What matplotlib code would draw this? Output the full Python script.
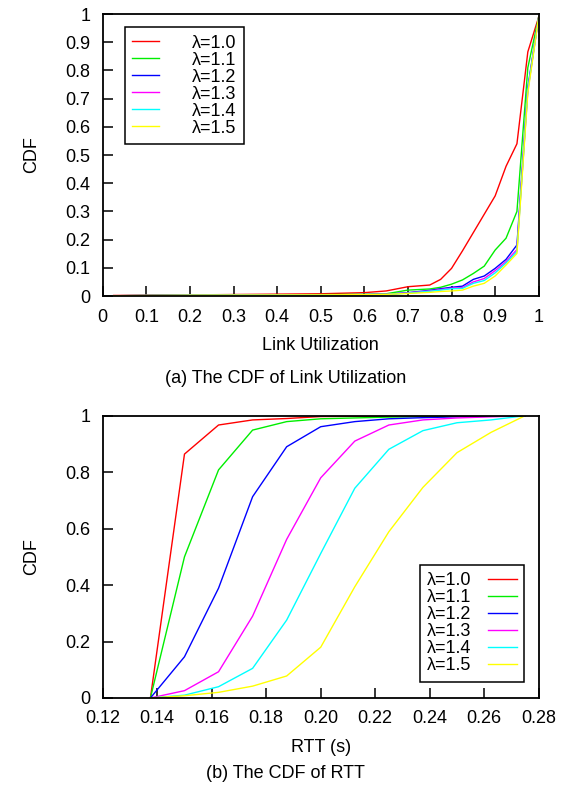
import matplotlib.pyplot as plt
from matplotlib.ticker import FixedLocator

plt.rcParams['font.family'] = ['Liberation Sans', 'DejaVu Sans']

labels = ['λ=1.0', 'λ=1.1', 'λ=1.2', 'λ=1.3', 'λ=1.4', 'λ=1.5']
colors = ['#ff0000', '#00ee00', '#0000ff', '#ff00ff', '#00ffff', '#ffff00']

# (a) link utilization CDF
util_x = [0.025, 0.2, 0.5, 0.6, 0.65, 0.7, 0.75, 0.775, 0.8, 0.825, 0.85,
          0.875, 0.9, 0.925, 0.95, 0.975, 1.0]
util_10 = [0.002, 0.004, 0.008, 0.012, 0.018, 0.033, 0.039, 0.059, 0.098, 0.16,
           0.225, 0.29, 0.355, 0.46, 0.54, 0.866, 0.99]
util_11 = [0.001, 0.003, 0.005, 0.006, 0.008, 0.021, 0.025, 0.031, 0.042, 0.057,
           0.08, 0.106, 0.163, 0.205, 0.30, 0.81, 0.99]
util_12 = [0.001, 0.003, 0.004, 0.005, 0.006, 0.012, 0.02, 0.026, 0.031, 0.035,
           0.059, 0.071, 0.098, 0.13, 0.181, 0.74, 0.99]
util_13 = [0.001, 0.003, 0.004, 0.005, 0.006, 0.011, 0.018, 0.023, 0.028, 0.03,
           0.05, 0.062, 0.09, 0.122, 0.165, 0.73, 0.99]
util_14 = [0.001, 0.003, 0.004, 0.005, 0.006, 0.01, 0.017, 0.021, 0.026, 0.027,
           0.045, 0.055, 0.082, 0.117, 0.158, 0.73, 0.99]
util_15 = [0.001, 0.003, 0.004, 0.005, 0.006, 0.009, 0.013, 0.016, 0.018, 0.021,
           0.035, 0.045, 0.071, 0.11, 0.151, 0.72, 0.99]

# (b) RTT CDF
rtt_x = [0.1375, 0.15, 0.1625, 0.175, 0.1875, 0.2, 0.2125, 0.225, 0.2375,
         0.25, 0.2625, 0.275]
rtt_10 = [0, 0.864, 0.967, 0.985, 0.99, 0.997, 0.998, 0.999, 1, 1, 1, 1]
rtt_11 = [0, 0.50, 0.808, 0.949, 0.979, 0.989, 0.992, 0.995, 0.997, 0.998, 0.999, 1]
rtt_12 = [0, 0.146, 0.389, 0.713, 0.89, 0.961, 0.979, 0.989, 0.993, 0.996, 0.998, 1]
rtt_13 = [0, 0.026, 0.093, 0.29, 0.562, 0.78, 0.91, 0.967, 0.985, 0.992, 0.996, 1]
rtt_14 = [0, 0.01, 0.04, 0.105, 0.276, 0.512, 0.743, 0.881, 0.947, 0.975, 0.985, 1]
rtt_15 = [0, 0.008, 0.02, 0.042, 0.078, 0.18, 0.394, 0.589, 0.746, 0.869, 0.941, 1]

util_ys = [util_10, util_11, util_12, util_13, util_14, util_15]
rtt_ys = [rtt_10, rtt_11, rtt_12, rtt_13, rtt_14, rtt_15]

fs = 13
lfs = 13
fig = plt.figure(figsize=(5.71, 7.93), dpi=100)
ax1 = fig.add_axes([0.1799, 0.6267, 0.7636, 0.3556])
ax2 = fig.add_axes([0.1799, 0.1198, 0.7636, 0.3560])


def style(ax):
    for s in ax.spines.values():
        s.set_linewidth(1.3)
    ax.tick_params(direction='in', length=7, width=1.1, labelsize=fs,
                   top=False, right=False, pad=9)
    ax.set_ylabel('CDF', fontsize=fs, labelpad=18)


for y, c, l in zip(util_ys, colors, labels):
    ax1.plot(util_x, y, color=c, lw=1.0, label=l)
ax1.set_xlim(0, 1)
ax1.set_ylim(0, 1)
ticks = [i / 10 for i in range(11)]
ax1.xaxis.set_major_locator(FixedLocator(ticks))
ax1.yaxis.set_major_locator(FixedLocator(ticks))
ax1.set_xticklabels(['0'] + ['%.1f' % t for t in ticks[1:-1]] + ['1'])
ax1.set_yticklabels(['0'] + ['%.1f' % t for t in ticks[1:-1]] + ['1'])
style(ax1)
ax1.set_xlabel('Link Utilization', fontsize=fs, labelpad=8)
leg1 = ax1.legend(loc='upper left', bbox_to_anchor=(0.05, 0.953), borderaxespad=0,
                  fontsize=lfs, fancybox=False, framealpha=1, edgecolor='black',
                  handlelength=1.5, handletextpad=1.85, labelspacing=0.0,
                  borderpad=0.4)
leg1.get_frame().set_linewidth(1.1)

for y, c, l in zip(rtt_ys, colors, labels):
    ax2.plot(rtt_x, y, color=c, lw=1.0, label=l)
ax2.set_xlim(0.12, 0.28)
ax2.set_ylim(0, 1)
xt = [0.12 + 0.02 * i for i in range(9)]
yt = [0.2 * i for i in range(6)]
ax2.xaxis.set_major_locator(FixedLocator(xt))
ax2.yaxis.set_major_locator(FixedLocator(yt))
ax2.set_xticklabels(['%.2f' % t for t in xt])
ax2.set_yticklabels(['0'] + ['%.1f' % t for t in yt[1:-1]] + ['1'])
style(ax2)
ax2.set_xlabel('RTT (s)', fontsize=fs, labelpad=8)
leg2 = ax2.legend(loc='lower right', bbox_to_anchor=(0.966, 0.058), borderaxespad=0,
                  fontsize=lfs, fancybox=False, framealpha=1, edgecolor='black',
                  handlelength=1.6, handletextpad=0.9, labelspacing=0.0,
                  borderpad=0.4, markerfirst=False)
leg2.get_frame().set_linewidth(1.1)

fig.text(0.5, 1 - 379 / 793, '(a) The CDF of Link Utilization', fontsize=fs,
         ha='center', va='center')
fig.text(0.5, 1 - 773 / 793, '(b) The CDF of RTT', fontsize=fs,
         ha='center', va='center')

fig.savefig('out.png', dpi=100)
